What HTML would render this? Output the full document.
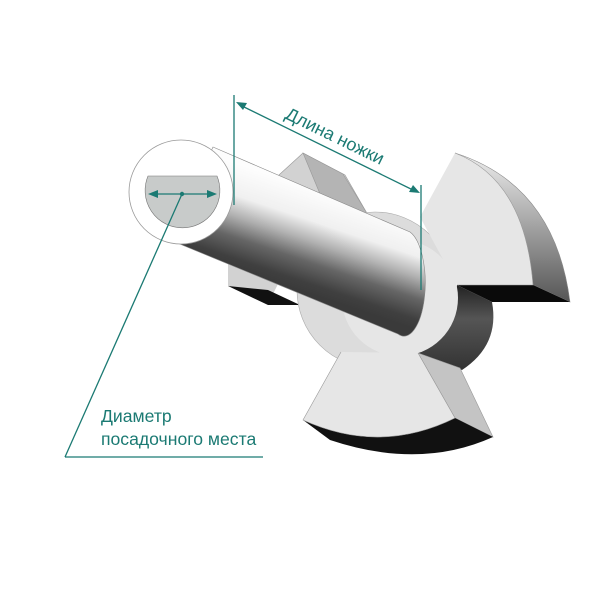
<!DOCTYPE html>
<html><head><meta charset="utf-8"><style>html,body{margin:0;padding:0;background:#fff}</style></head>
<body>
<svg width="600" height="600" viewBox="0 0 600 600" xmlns="http://www.w3.org/2000/svg">
<defs>
<linearGradient id="sh" gradientUnits="userSpaceOnUse" x1="300" y1="185" x2="268" y2="280">
<stop offset="0" stop-color="#fdfdfd"/><stop offset="0.3" stop-color="#f0f0f0"/><stop offset="0.5" stop-color="#b0b0b0"/><stop offset="0.7" stop-color="#666"/><stop offset="0.9" stop-color="#404040"/><stop offset="1" stop-color="#3a3a3a"/></linearGradient>
<linearGradient id="rs" x1="0" y1="0" x2="0" y2="1"><stop offset="0" stop-color="#eee"/><stop offset="1" stop-color="#555"/></linearGradient>
<linearGradient id="hub" x1="0" y1="0" x2="0" y2="1"><stop offset="0" stop-color="#222"/><stop offset="0.4" stop-color="#555"/><stop offset="1" stop-color="#333"/></linearGradient>
</defs>
<polygon points="268,185 303,153 345,175 368,215 300,232" fill="#d2d2d2" stroke="#999" stroke-width="0.6"/>
<polygon points="303,153 343,174 368,215 330,218" fill="#b4b4b4" stroke="#999" stroke-width="0.6"/>
<polygon points="228,262 228,286 270,300 280,280" fill="#d2d2d2"/>
<polygon points="228,286 268,290 300,305 268,305" fill="#111"/>
<circle cx="375" cy="290" r="78" fill="#dcdcdc" stroke="#aaa" stroke-width="0.6"/>
<path d="M455,153 Q555,185 570,302 L533,285 Q520,185 455,153 Z" fill="url(#rs)" stroke="#888" stroke-width="0.6"/>
<polygon points="457,285 533,285 570,302 492,302" fill="#0a0a0a"/>
<path d="M457,285 L492,302 Q500,345 462,370 L418,353 Q450,330 457,285 Z" fill="url(#hub)"/>
<polygon points="418,353 460,368 493,437 455,418" fill="#c4c4c4" stroke="#999" stroke-width="0.6"/>
<path d="M303,420 Q380,455 455,418 L493,437 Q420,470 330,440 Z" fill="#111"/>
<g fill="#e6e6e6">
<circle cx="400" cy="298" r="58"/>
<path d="M420,217 L455,153 Q525,180 533,285 L457,285 Z"/>
<path d="M418,353 L455,418 Q380,455 303,420 L341,352 Z"/>
</g>
<path d="M455,153 Q525,180 533,285 L457,285 M418,353 L455,418 Q380,455 303,420 L341,352" fill="none" stroke="#999" stroke-width="0.6"/>
<path d="M213,147 L410,232 A 20 50 0 0 1 398,334 L170,240 Z" fill="url(#sh)" stroke="#888" stroke-width="0.6"/>
<circle cx="181" cy="192" r="52" fill="#fff" stroke="#999" stroke-width="0.8"/>
<path d="M148,176 L217,176 A 37.4 37.4 0 1 1 148,176 Z" fill="#c8cbca" stroke="#777" stroke-width="0.6"/>
<g stroke="#1b7a73" stroke-width="1.3" fill="#1b7a73">
<line x1="153" y1="194" x2="212" y2="194"/>
<polygon points="148,194 158,190 158,198" stroke="none"/>
<polygon points="217,194 207,190 207,198" stroke="none"/>
<circle cx="182" cy="194" r="2.2" stroke="none"/>
<line x1="182" y1="194" x2="65" y2="457"/>
<line x1="65" y1="457" x2="263" y2="457"/>
<line x1="234" y1="95" x2="234" y2="205"/>
<line x1="421" y1="185" x2="421" y2="290"/>
<line x1="240" y1="105" x2="415" y2="191"/>
<polygon points="236,102 247,103 243,110" stroke="none"/>
<polygon points="420,193 409,192 413,185" stroke="none"/>
</g>
<text x="0" y="0" transform="translate(284,118) rotate(26)" font-family="Liberation Sans, sans-serif" font-size="18" fill="#1b7a73">Длина ножки</text>
<text x="101" y="422" font-family="Liberation Sans, sans-serif" font-size="17.6" fill="#1b7a73">Диаметр</text>
<text x="101" y="445" font-family="Liberation Sans, sans-serif" font-size="17.6" fill="#1b7a73">посадочного места</text>
</svg>
</body></html>
